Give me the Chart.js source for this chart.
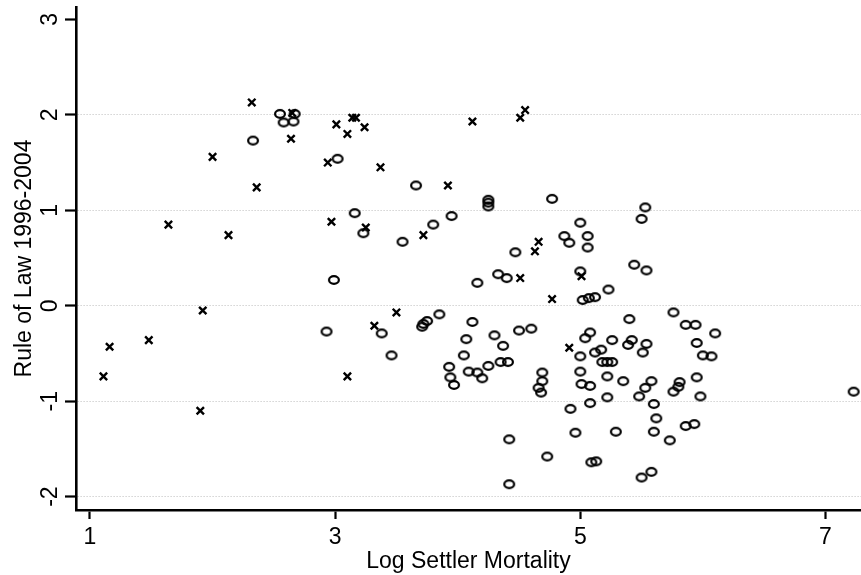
<!DOCTYPE html>
<html>
<head>
<meta charset="utf-8">
<script src="https://cdn.jsdelivr.net/npm/chart.js@4.4.1/dist/chart.umd.min.js"></script>
<style>
	html, body { margin: 0; padding: 0; background: #fff; }
	#wrap { width: 861px; height: 575px; }
</style>
</head>
<body>
<div id="wrap"><canvas id="scatterChart" width="861" height="575"></canvas></div>
<script>
const xTickValues = [1, 3, 5, 7];
const yTickValues = [-2, -1, 0, 1, 2, 3];

// x markers
const crossLogMort = [1.11, 1.16, 1.48, 1.64, 2.00, 2.13, 1.92, 1.90, 2.32, 2.36, 2.64, 2.65, 2.94, 3.01, 3.10, 3.14, 3.17, 3.24, 2.97, 3.10, 3.37, 3.32, 3.50, 3.92, 4.12, 4.51, 4.55, 3.72, 4.63, 4.66, 4.51, 4.77, 4.91, 5.01, 3.25];
const crossRuleOfLaw = [-0.74, -0.43, -0.36, 0.85, 1.56, 0.74, -0.05, -1.10, 2.13, 1.24, 1.75, 2.02, 1.50, 1.90, 1.80, 1.97, 1.97, 1.87, 0.88, -0.74, 1.45, -0.21, -0.07, 1.26, 1.93, 1.97, 2.05, 0.74, 0.57, 0.67, 0.29, 0.07, -0.44, 0.31, 0.82];

// o markers
const circleLogMort = [2.55, 2.58, 2.66, 2.67, 2.33, 3.02, 2.99, 2.93, 3.66, 3.16, 3.23, 3.55, 3.80, 3.95, 4.25, 4.25, 4.25, 4.77, 5.00, 4.87, 4.91, 5.06, 5.06, 4.47, 4.33, 4.40, 4.16, 5.02, 5.07, 5.12, 5.23,
	3.85, 3.75, 3.72, 3.71, 3.38, 3.46, 4.12, 4.07, 4.05, 3.93, 3.94, 3.97, 4.09, 4.16, 4.20, 4.25, 4.30, 4.37, 4.35, 4.41, 4.50, 4.60, 4.69, 4.69, 4.66, 4.68, 4.92, 4.96, 4.42, 4.73, 4.42,
	5.08, 5.04, 5.00, 5.00, 5.01, 5.08, 5.08, 5.09, 5.53, 5.50, 5.44, 5.54, 5.76, 5.40, 5.86, 5.94, 6.10, 5.26, 5.42, 5.39, 5.54, 5.95, 5.51, 5.12, 5.17, 5.18, 5.22, 5.26, 6.00, 6.07,
	5.22, 5.35, 5.58, 5.95, 5.53, 5.81, 5.80, 5.76, 5.22, 5.48, 5.98, 5.60, 5.62, 5.86, 5.93, 5.29, 5.60, 5.73, 5.13, 5.58, 5.50, 7.23, 5.00];
const circleRuleOfLaw = [2.01, 1.92, 1.93, 2.01, 1.73, 1.54, 0.27, -0.27, 1.26, 0.97, 0.76, 0.67, 0.85, 0.94, 1.11, 1.08, 1.04, 1.12, 0.87, 0.73, 0.66, 0.73, 0.61, 0.56, 0.33, 0.29, 0.24, 0.06, 0.08, 0.09, 0.17,
	-0.09, -0.16, -0.19, -0.22, -0.29, -0.52, -0.17, -0.35, -0.52, -0.64, -0.75, -0.83, -0.69, -0.70, -0.76, -0.63, -0.31, -0.42, -0.59, -0.59, -0.26, -0.24, -0.70, -0.79, -0.86, -0.91, -1.08, -1.33, -1.40, -1.58, -1.87,
	-0.28, -0.34, -0.53, -0.69, -0.82, -0.84, -1.02, -1.64, 1.03, 0.91, 0.43, 0.37, -0.07, -0.14, -0.20, -0.20, -0.29, -0.36, -0.36, -0.41, -0.40, -0.39, -0.49, -0.49, -0.46, -0.59, -0.59, -0.59, -0.52, -0.53,
	-0.74, -0.79, -0.79, -0.75, -0.86, -0.80, -0.85, -0.90, -0.96, -0.95, -0.95, -1.03, -1.18, -1.26, -1.24, -1.32, -1.32, -1.41, -1.63, -1.74, -1.80, -0.90, 0.36];

const FONT = "'Liberation Sans', Arial, sans-serif";

// hollow ellipse marker
const ring = document.createElement('canvas');
ring.width = 16;
ring.height = 14;
const rctx = ring.getContext('2d');
rctx.strokeStyle = '#000';
rctx.lineWidth = 2.2;
rctx.beginPath();
rctx.ellipse(8, 7, 4.9, 3.8, 0, 0, Math.PI * 2);
rctx.stroke();

const toPoints = (xs, ys) => xs.map((x, i) => ({ x: x, y: ys[i] }));

// y tick labels are rotated, so draw them here
const rotatedYLabels = {
	id: 'rotatedYLabels',
	afterDraw(chart) {
		const ctx = chart.ctx;
		const y = chart.scales.y;
		ctx.save();
		ctx.fillStyle = '#000';
		ctx.font = '23px ' + FONT;
		ctx.textAlign = 'center';
		ctx.textBaseline = 'alphabetic';
		yTickValues.forEach(v => {
			ctx.save();
			ctx.translate(56.5, y.getPixelForValue(v));
			ctx.rotate(-Math.PI / 2);
			ctx.fillText(String(v), 0, 0);
			ctx.restore();
		});
		ctx.restore();
	}
};

const ctx = document.getElementById('scatterChart').getContext('2d');
const chart = new Chart(ctx, {
	type: 'scatter',
	data: {
		datasets: [{
			label: 'x',
			data: toPoints(crossLogMort, crossRuleOfLaw),
			pointStyle: 'crossRot',
			pointRadius: 5.2,
			borderColor: '#000',
			borderWidth: 2.4,
			backgroundColor: '#000'
		}, {
			label: 'o',
			data: toPoints(circleLogMort, circleRuleOfLaw),
			pointStyle: ring,
			pointRadius: 6,
			borderColor: '#000'
		}]
	},
	options: {
		responsive: false,
		animation: false,
		events: [],
		layout: {
			autoPadding: false,
			padding: { top: 7, right: 0, bottom: 0, left: 0 }
		},
		plugins: {
			legend: { display: false },
			tooltip: { enabled: false }
		},
		scales: {
			x: {
				type: 'linear',
				min: 0.886,
				max: 7.29,
				afterBuildTicks: s => { s.ticks = xTickValues.map(v => ({ value: v })); },
				afterFit: s => {
					s.height = 65;
					s.paddingLeft = 0;
					s.paddingRight = 0;
				},
				grid: {
					display: true,
					drawOnChartArea: false,
					drawTicks: true,
					tickLength: 9,
					tickColor: '#000',
					tickWidth: 2.2
				},
				border: { display: true, color: '#000', width: 2.6 },
				ticks: {
					color: '#000',
					font: { family: FONT, size: 23 },
					padding: 5,
					maxRotation: 0,
					autoSkip: false
				},
				title: {
					display: true,
					text: 'Log Settler Mortality',
					color: '#000',
					font: { family: FONT, size: 23 },
					padding: { top: 0, bottom: 0 }
				}
			},
			y: {
				type: 'linear',
				min: -2.14,
				max: 3.13,
				afterBuildTicks: s => { s.ticks = yTickValues.map(v => ({ value: v })); },
				afterFit: s => { s.width = 76; },
				grid: {
					color: ctx => ctx.tick && ctx.tick.value === 3 ? 'rgba(0,0,0,0)' : '#bdbdbd',
					lineWidth: 1,
					drawTicks: true,
					tickLength: 11,
					tickColor: '#000',
					tickWidth: 2.2,
					tickBorderDash: []
				},
				border: { display: true, color: '#000', width: 2.6, dash: [1, 2] },
				ticks: {
					display: false
				},
				title: {
					display: true,
					text: 'Rule of Law 1996-2004',
					color: '#000',
					font: { family: FONT, size: 23 },
					padding: { top: 11, bottom: 0 }
				}
			}
		}
	},
	plugins: [rotatedYLabels]
});
</script>
</body>
</html>
